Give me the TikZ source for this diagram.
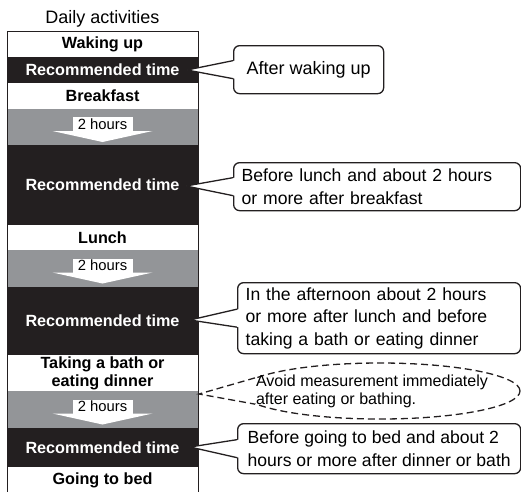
\documentclass[tikz,border=0pt]{standalone}
\usepackage{fontspec}
\setmainfont{Liberation Sans}
\usetikzlibrary{calc,positioning,shapes.geometric}
\definecolor{darkrow}{RGB}{35,31,32}
\definecolor{greyrow}{RGB}{147,149,152}

\begin{document}
\begin{tikzpicture}[
  x=1pt,y=-1pt,
  node distance=0pt,
  actrow/.style={minimum width=191pt,inner sep=0pt,outer sep=0pt,align=center,font=\bfseries\fontsize{16.2}{18}\selectfont},
  daybox/.style={actrow,fill=white},
  recbox/.style={actrow,fill=darkrow,text=white},
  gapbox/.style={actrow,fill=greyrow},
  hrsbox/.style={fill=white,inner sep=0pt,minimum width=60pt,minimum height=14pt,font=\fontsize{14.8}{15}\selectfont},
  callbox/.style={draw=darkrow,line width=1.3pt,rounded corners=6pt,fill=white,align=left,inner xsep=8pt,inner ysep=4pt,font=\fontsize{17.6}{22.5}\selectfont},
  notebox/.style={ellipse,draw=darkrow,line width=1.3pt,dash pattern=on 7pt off 4pt,minimum width=280pt,minimum height=56pt,inner sep=0pt},
  notetext/.style={align=left,inner sep=0pt,font=\fontsize{16}{18}\selectfont}
]
  \useasboundingbox (0,0) rectangle (521,491);
  % activity column
  \node[daybox,minimum height=26pt,anchor=north] (wake) at (102.5,31) {Waking up};
  \node[recbox,minimum height=26pt,below=of wake] (rec1) {Recommended time};
  \node[daybox,minimum height=26pt,below=of rec1] (bfast) {Breakfast};
  \node[gapbox,minimum height=36pt,below=of bfast] (gap1) {};
  \node[recbox,minimum height=80pt,below=of gap1] (rec2) {Recommended time};
  \node[daybox,minimum height=25pt,below=of rec2] (lunch) {Lunch};
  \node[gapbox,minimum height=37pt,below=of lunch] (gap2) {};
  \node[recbox,minimum height=68pt,below=of gap2] (rec3) {Recommended time};
  \node[daybox,minimum height=36pt,below=of rec3] (bath) {Taking a bath or\\eating dinner};
  \node[gapbox,minimum height=37pt,below=of bath] (gap3) {};
  \node[recbox,minimum height=39pt,below=of gap3] (rec4) {Recommended time};
  \node[daybox,minimum height=26pt,below=of rec4] (bed) {Going to bed};
  \draw[darkrow,line width=1pt] (bed.south west) -- (wake.north west) -- (wake.north east) -- (bed.south east);
  \node[font=\fontsize{18}{20}\selectfont,above=0pt of wake] (title) {Daily activities};

  % 2 hours arrows
  \foreach \g in {gap1,gap2,gap3}{
    \fill[white] ($(\g.center)+(-50,4)$) -- ($(\g.center)+(50,4)$) -- ($(\g.center)+(0,15)$) -- cycle;
    \node[hrsbox] (\g-hrs) at ($(\g.center)+(0,-3)$) {2 hours};
  }

  % callouts
  \node[callbox,anchor=north west,minimum width=150pt,minimum height=48pt,align=center,font=\fontsize{18}{22.5}\selectfont] (c1) at (233,45) {After waking up};
  \node[callbox,anchor=north west,text width=271pt,minimum height=48pt] (c2) at (233,162) {Before lunch and about 2 hours\\or more after breakfast};
  \node[callbox,anchor=north west,text width=267pt,minimum height=71pt] (c3) at (237,282) {In the afternoon about 2 hours\\or more after lunch and before\\taking a bath or eating dinner};
  \node[notebox] (n1) at (380,391) {};
  \node[callbox,anchor=north west,minimum width=283pt,inner xsep=5pt,minimum height=50pt] (c4) at (237,423) {Before going to bed and about 2\\hours or more after dinner or bath};

  \coordinate (t1) at (187,70);
  \coordinate (t2) at (186,186);
  \coordinate (t3) at (190,320);
  \coordinate (t4) at (199,394);
  \coordinate (t5) at (190,447);
  \foreach \c/\t in {c1/t1,c2/t2,c3/t3,c4/t5}{
    \fill[white] (\t) -- ($(\c.west)+(2,-9)$) -- ($(\c.west)+(2,9)$) -- cycle;
    \draw[darkrow,line width=1.3pt,line join=round] ($(\c.west)+(0,-9)$) -- (\t) -- ($(\c.west)+(0,9)$);
  }
  \fill[white] (t4) -- (n1.174) -- (n1.186) -- cycle;
  \draw[darkrow,line width=1.3pt,dash pattern=on 7pt off 4pt] (n1.174) -- (t4) -- (n1.186);
  \node[notetext] (n1-text) at (372,391) {Avoid measurement immediately\\after eating or bathing.};
\end{tikzpicture}
\end{document}
